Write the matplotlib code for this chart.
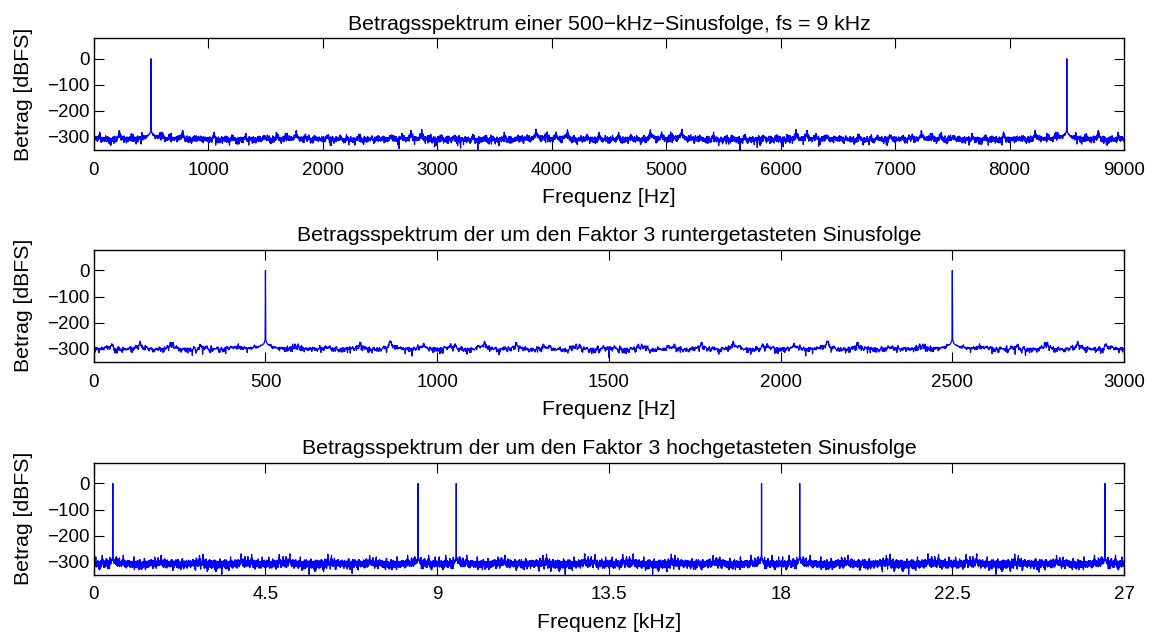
import numpy as np
import matplotlib
matplotlib.use("Agg")
import matplotlib.pyplot as plt

plt.rcParams['font.family'] = ['Liberation Sans', 'DejaVu Sans']
plt.rcParams['font.size'] = 13.5

# signal parameters read from the titles
signal_freq = 500        # Hz
fs = 9000                # Hz
n_samples = 9000
factor = 3

titles = [
    "Betragsspektrum einer 500\u2212kHz\u2212Sinusfolge, fs = 9 kHz",
    "Betragsspektrum der um den Faktor 3 runtergetasteten Sinusfolge",
    "Betragsspektrum der um den Faktor 3 hochgetasteten Sinusfolge",
]
xlabels = ["Frequenz [Hz]", "Frequenz [Hz]", "Frequenz [kHz]"]
xticks_1 = [0, 1000, 2000, 3000, 4000, 5000, 6000, 7000, 8000, 9000]
xticks_2 = [0, 500, 1000, 1500, 2000, 2500, 3000]
xticks_3 = [0, 4.5, 9, 13.5, 18, 22.5, 27]
xticklabels_3 = ["0", "4.5", "9", "13.5", "18", "22.5", "27"]
yticks = [0, -100, -200, -300]
ylim = (-350, 80)


def spectrum_db(sig):
    """Betragsspektrum in dBFS (bezogen auf das Maximum)"""
    mag = np.abs(np.fft.fft(sig))
    mag = np.maximum(mag, 1e-300)
    return 20 * np.log10(mag / mag.max())


n = np.arange(n_samples)
x = np.sin(2 * np.pi * signal_freq * n / fs)

# runtergetastet: jedes 3. Sample
x_down = x[::factor]
# hochgetastet: Nullen einfügen
x_up = np.zeros(len(x) * factor)
x_up[::factor] = x

spectra = []
for sig, rate, scale in [(x, fs, 1), (x_down, fs / factor, 1), (x_up, fs * factor, 1e-3)]:
    f = np.arange(len(sig)) * rate / len(sig) * scale
    spectra.append((f, spectrum_db(sig)))

fig = plt.figure(figsize=(11.53, 6.35), dpi=100)
rects = [
    [0.0813, 0.7638, 0.8936, 0.1765],
    [0.0813, 0.4304, 0.8936, 0.1765],
    [0.0813, 0.0950, 0.8936, 0.1765],
]
xlims = [(0, 9000), (0, 3000), (0, 27)]
xtick_sets = [xticks_1, xticks_2, xticks_3]

for i, rect in enumerate(rects):
    ax = fig.add_axes(rect)
    f, db = spectra[i]
    ax.plot(f, db, color='#0000ff', linewidth=0.9)
    ax.set_xlim(*xlims[i])
    ax.set_ylim(*ylim)
    ax.set_xticks(xtick_sets[i])
    if i == 2:
        ax.set_xticklabels(xticklabels_3)
    ax.set_yticks(yticks)
    ax.set_yticklabels(["0", "\u2212100", "\u2212200", "\u2212300"])
    ax.tick_params(direction='in', top=True, right=True, length=7, width=0.8)
    ax.tick_params(axis='x', pad=8.5)
    ax.tick_params(axis='y', pad=3)
    for sp in ax.spines.values():
        sp.set_linewidth(1.0)
    ax.set_title(titles[i], fontsize=15.3, pad=6)
    ax.set_xlabel(xlabels[i], fontsize=15.3, labelpad=6.5)
    ax.set_ylabel("Betrag [dBFS]", fontsize=15.3, labelpad=10)

fig.savefig("out.png", dpi=100)
plt.close()
